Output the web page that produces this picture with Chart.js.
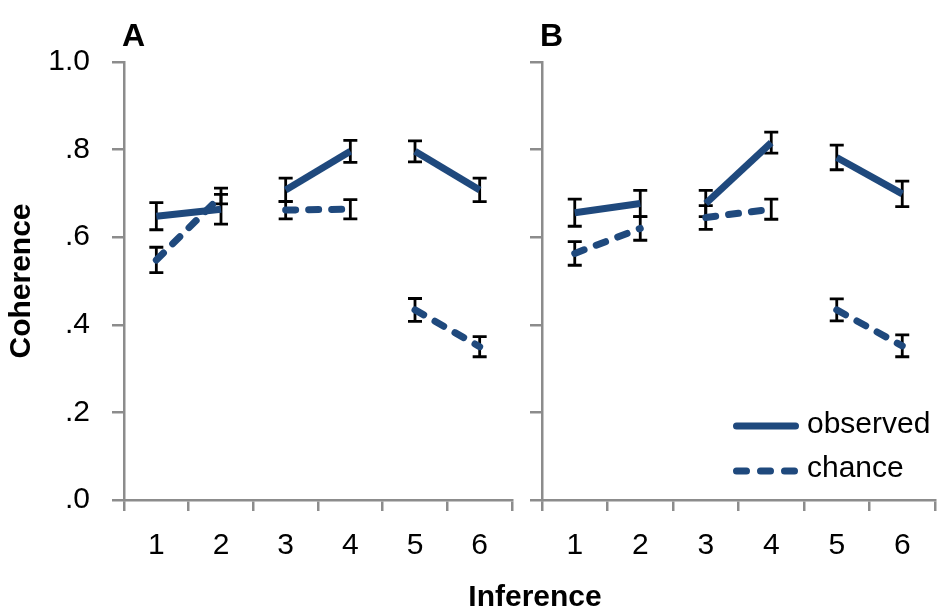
<!DOCTYPE html>
<html>
<head>
<meta charset="utf-8">
<script src="https://cdn.jsdelivr.net/npm/chart.js@4.4.1/dist/chart.umd.min.js"></script>
<style>
  body { margin: 0; background: #fff; }
  #wrap { position: relative; width: 938px; height: 613px; }
  canvas { position: absolute; top: 0; }
  #xTitle {
    position: absolute; left: 0; width: 1070px; top: 579px;
    text-align: center; font: bold 30px "Liberation Sans", Arial, sans-serif; color: #000;
  }
</style>
</head>
<body>
<div id="wrap">
  <canvas id="panelA" width="525" height="613" style="left:0"></canvas>
  <canvas id="panelB" width="413" height="613" style="left:525px"></canvas>
  <div id="xTitle">Inference</div>
</div>
<script>
// data
const categories = ['1', '2', '3', '4', '5', '6'];
const yTicks = [0, 0.2, 0.4, 0.6, 0.8, 1.0];

const observedA = [0.648, 0.664, 0.708, 0.796, 0.796, 0.708];
const observedAErr = [0.031, 0.034, 0.027, 0.025, 0.024, 0.027];
const chanceA = [0.548, 0.694, 0.662, 0.664, 0.434, 0.350];
const chanceAErr = [0.029, 0.018, 0.020, 0.022, 0.026, 0.023];

const observedB = [0.656, 0.677, 0.677, 0.816, 0.782, 0.699];
const observedBErr = [0.031, 0.030, 0.030, 0.024, 0.028, 0.029];
const chanceB = [0.563, 0.620, 0.645, 0.664, 0.434, 0.352];
const chanceBErr = [0.027, 0.027, 0.027, 0.023, 0.025, 0.025];

const blue = '#1f497d';
const axisGrey = '#8c8c8c';
const font = '"Liberation Sans", Arial, sans-serif';

// only pairs 1-2, 3-4, 5-6 are joined
const pairColor = ctx => ctx.p0DataIndex % 2 ? 'rgba(0,0,0,0)' : blue;

const errorBars = {
    id: 'errorBars',
    beforeDatasetsDraw(chart) {
        const { ctx, scales: { x, y } } = chart;
        ctx.save();
        ctx.strokeStyle = '#000';
        ctx.lineWidth = 2.8;
        chart.data.datasets.forEach(ds => {
            ds.data.forEach((v, i) => {
                const px = x.getPixelForValue(i);
                const top = y.getPixelForValue(v + ds.errors[i]);
                const bot = y.getPixelForValue(v - ds.errors[i]);
                ctx.beginPath();
                ctx.moveTo(px, top); ctx.lineTo(px, bot);
                ctx.moveTo(px - 7, top); ctx.lineTo(px + 7, top);
                ctx.moveTo(px - 7, bot); ctx.lineTo(px + 7, bot);
                ctx.stroke();
            });
        });
        ctx.restore();
    }
};

// panel letter + legend (panel B only)
const extras = {
    id: 'extras',
    afterDraw(chart, args, opts) {
        const { ctx, chartArea } = chart;
        ctx.save();
        ctx.fillStyle = '#000';
        ctx.font = 'bold 32px ' + font;
        ctx.textBaseline = 'alphabetic';
        ctx.fillText(opts.letter, chartArea.left - 2, 46);
        if (opts.legend) {
            const x0 = chartArea.right - 202, x1 = chartArea.right - 136;
            ctx.strokeStyle = blue;
            ctx.lineWidth = 7;
            ctx.lineCap = 'round';
            ctx.beginPath();
            ctx.moveTo(x0 + 3.5, 426); ctx.lineTo(x1 - 3.5, 426);
            ctx.stroke();
            ctx.setLineDash([10, 14]);
            ctx.beginPath();
            ctx.moveTo(x0 + 3.5, 471); ctx.lineTo(x1 - 3.5, 471);
            ctx.stroke();
            ctx.setLineDash([]);
            ctx.font = '30px ' + font;
            ctx.textBaseline = 'middle';
            ctx.fillText('observed', x1 + 8, 425);
            ctx.fillText('chance', x1 + 8, 469);
        }
        ctx.restore();
    }
};

function makePanel(id, obs, obsErr, chance, chanceErr, opts) {
    return new Chart(document.getElementById(id), {
        type: 'line',
        data: {
            labels: categories,
            datasets: [{
                label: 'observed',
                data: obs,
                errors: obsErr,
                borderColor: blue,
                borderWidth: 7,
                pointRadius: 0,
                segment: { borderColor: pairColor }
            }, {
                label: 'chance',
                data: chance,
                errors: chanceErr,
                borderColor: blue,
                borderWidth: 7,
                borderDash: [10, 13],
                borderCapStyle: 'round',
                pointRadius: 0,
                segment: { borderColor: pairColor }
            }]
        },
        options: {
            responsive: false,
            animation: false,
            layout: { padding: { top: 62, right: opts.padRight, left: 0, bottom: 0 } },
            plugins: {
                legend: { display: false },
                tooltip: { enabled: false },
                extras: { letter: opts.letter, legend: opts.legend }
            },
            scales: {
                x: {
                    offset: true,
                    grid: { offset: true, drawOnChartArea: false, tickLength: 11, color: axisGrey, lineWidth: 2.5 },
                    border: { color: axisGrey, width: 2.5 },
                    ticks: { color: '#000', font: { family: font, size: 30 }, padding: 17, maxRotation: 0 },
                    afterFit: s => { s.height = 113; }
                },
                y: {
                    min: 0,
                    max: 1,
                    afterBuildTicks: s => { s.ticks = yTicks.map(v => ({ value: v })); },
                    grid: { drawOnChartArea: false, tickLength: 12, color: axisGrey, lineWidth: 2.5 },
                    border: { color: axisGrey, width: 2.5 },
                    ticks: {
                        display: opts.yLabels,
                        color: '#000',
                        font: { family: font, size: 30 },
                        padding: 22,
                        callback: v => v === 1 ? '1.0' : '.' + Math.round(v * 10)
                    },
                    title: {
                        display: opts.yLabels,
                        text: 'Coherence',
                        color: '#000',
                        font: { family: font, size: 30, weight: 'bold' },
                        padding: { top: 4, bottom: 0 }
                    },
                    afterFit: s => { s.width = opts.yWidth; }
                }
            }
        },
        plugins: [errorBars, extras]
    });
}

makePanel('panelA', observedA, observedAErr, chanceA, chanceAErr,
    { letter: 'A', legend: false, yLabels: true, yWidth: 124, padRight: 13 });
makePanel('panelB', observedB, observedBErr, chanceB, chanceBErr,
    { letter: 'B', legend: true, yLabels: false, yWidth: 17, padRight: 3 });
</script>
</body>
</html>
